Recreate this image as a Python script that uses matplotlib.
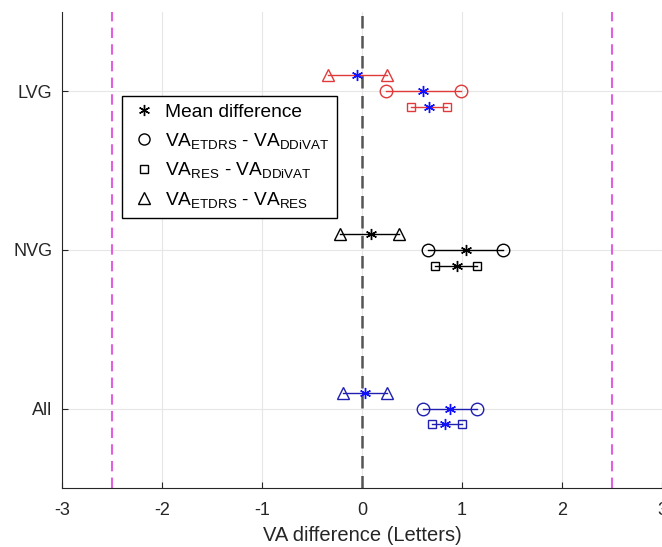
import numpy as np
import matplotlib.pyplot as plt

plt.rcParams['font.family'] = ['Liberation Sans', 'DejaVu Sans']
plt.rcParams['mathtext.fontset'] = 'custom'
plt.rcParams['mathtext.rm'] = 'Liberation Sans'
plt.rcParams['mathtext.it'] = 'Liberation Sans'
plt.rcParams['axes.unicode_minus'] = False

groups = ['All', 'NVG', 'LVG']
group_colors = ['#2020b0', 'black', '#e03a3a']
star_colors = ['#1010ff', 'black', '#1010ff']

# limits of agreement (lower, upper) and mean difference per group
etdrs_ddivat_lo = [0.61, 0.66, 0.24]
etdrs_ddivat_mean = [0.88, 1.04, 0.61]
etdrs_ddivat_hi = [1.15, 1.41, 0.99]

res_ddivat_lo = [0.70, 0.73, 0.49]
res_ddivat_mean = [0.83, 0.95, 0.67]
res_ddivat_hi = [1.00, 1.15, 0.85]

etdrs_res_lo = [-0.19, -0.22, -0.34]
etdrs_res_mean = [0.03, 0.09, -0.05]
etdrs_res_hi = [0.25, 0.37, 0.25]

comparisons = [
    (etdrs_ddivat_lo, etdrs_ddivat_mean, etdrs_ddivat_hi, 'o', 0.0, 9),
    (res_ddivat_lo, res_ddivat_mean, res_ddivat_hi, 's', -0.1, 6),
    (etdrs_res_lo, etdrs_res_mean, etdrs_res_hi, '^', 0.1, 8),
]

asterisk = (6, 2, 0)

fig = plt.figure(figsize=(6.62, 5.47), dpi=100)
ax = fig.add_axes([0.0937, 0.108, 0.9063, 0.870])

ax.axvline(0, color='#555555', ls=(0, (5, 3)), lw=1.8, zorder=1)
ax.axvline(-2.5, color='#e060e0', ls=(0, (5, 3)), lw=1.5, zorder=1)
ax.axvline(2.5, color='#e060e0', ls=(0, (5, 3)), lw=1.5, zorder=1)

for i, g in enumerate(groups):
    y0 = i + 1
    for lo, mean, hi, mk, off, ms in comparisons:
        y = y0 + off
        ax.plot([lo[i], hi[i]], [y, y], color=group_colors[i], lw=1.0,
                marker=mk, ms=ms, mfc='none', mec=group_colors[i], mew=1.0, zorder=3)
        ax.plot(mean[i], y, ls='none', marker=asterisk, ms=8, mew=1.0,
                color=star_colors[i], zorder=4)

ax.set_xlim(-3, 3)
ax.set_ylim(0.5, 3.5)
ax.set_xticks(np.arange(-3, 4))
ax.set_yticks([1, 2, 3])
ax.set_yticklabels(groups)
ax.grid(True, color='#e6e6e6', lw=0.8)
ax.set_axisbelow(True)
ax.tick_params(direction='in', length=4, labelsize=13, colors='#262626')
ax.tick_params(axis='x', pad=10)
ax.tick_params(axis='y', pad=7)
for s in ['top', 'right']:
    ax.spines[s].set_visible(False)
for s in ['left', 'bottom']:
    ax.spines[s].set_color('#262626')
ax.set_xlabel('VA difference (Letters)', fontsize=14.5, color='#262626', labelpad=5)

handles = [
    ax.plot([], [], ls='none', marker=asterisk, ms=8, mew=1.0, color='black')[0],
    ax.plot([], [], ls='none', marker='o', ms=8, mfc='none', mec='black')[0],
    ax.plot([], [], ls='none', marker='s', ms=6, mfc='none', mec='black')[0],
    ax.plot([], [], ls='none', marker='^', ms=8, mfc='none', mec='black')[0],
]
labels = [
    'Mean difference',
    r'VA$_{\rm ETDRS}$ - VA$_{\rm DDiVAT}$',
    r'VA$_{\rm RES}$ - VA$_{\rm DDiVAT}$',
    r'VA$_{\rm ETDRS}$ - VA$_{\rm RES}$',
]
leg = ax.legend(handles, labels, loc='upper left', bbox_to_anchor=(0.1, 0.8235),
                borderaxespad=0, fancybox=False, framealpha=1, edgecolor='black',
                fontsize=13.8, handletextpad=0.35, handlelength=1.5, labelspacing=0.5,
                borderpad=0.4)
leg.get_frame().set_linewidth(1.0)

fig.savefig('out.png', dpi=100)
